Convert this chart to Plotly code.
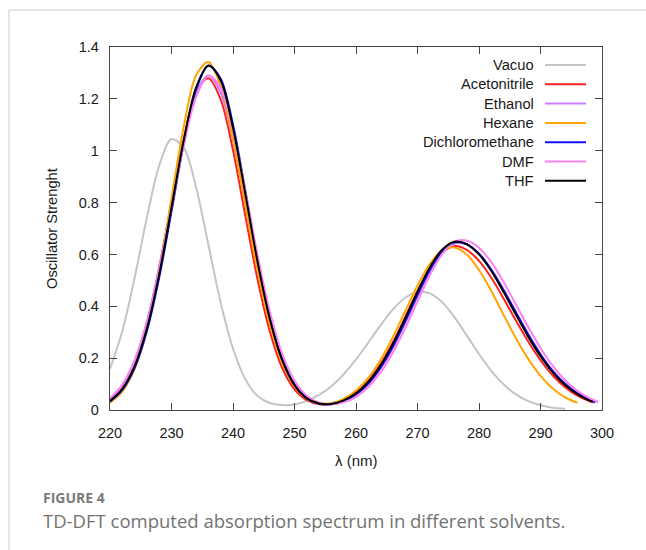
import plotly.graph_objects as go

# ---------------- data ----------------
WL = [220, 222, 224, 226, 228, 230, 232, 234, 236, 238,
      240, 242, 244, 246, 248, 250, 252, 254, 256, 258,
      260, 262, 264, 266, 268, 270, 272, 274, 276, 278,
      280, 282, 284, 286, 288, 290, 292, 294, 296, 298]

vacuo = [0.159, 0.304, 0.509, 0.742, 0.943, 1.045, 1.012, 0.858, 0.637, 0.414,
         0.237, 0.119, 0.054, 0.027, 0.019, 0.021, 0.035, 0.058, 0.092, 0.138,
         0.195, 0.260, 0.327, 0.388, 0.433, 0.455, 0.450, 0.416, 0.358, 0.288,
         0.216, 0.151, 0.099, 0.060, 0.034, 0.018, 0.009, 0.005]

acetonitrile = [0.040, 0.091, 0.185, 0.337, 0.550, 0.802, 1.047, 1.224, 1.279, 1.197,
                1.002, 0.750, 0.503, 0.302, 0.162, 0.080, 0.038, 0.022, 0.024, 0.039,
                0.067, 0.113, 0.178, 0.261, 0.358, 0.458, 0.546, 0.608, 0.632, 0.618,
                0.575, 0.510, 0.430, 0.345, 0.264, 0.192, 0.133, 0.088, 0.055, 0.033]

ethanol = [0.041, 0.093, 0.186, 0.336, 0.546, 0.795, 1.040, 1.223, 1.290, 1.223,
           1.040, 0.795, 0.546, 0.336, 0.186, 0.094, 0.044, 0.024, 0.022, 0.033,
           0.058, 0.099, 0.160, 0.239, 0.335, 0.437, 0.533, 0.606, 0.642, 0.638,
           0.603, 0.542, 0.464, 0.378, 0.293, 0.216, 0.152, 0.102, 0.065, 0.039]

hexane = [0.028, 0.071, 0.158, 0.309, 0.535, 0.816, 1.094, 1.291, 1.342, 1.248,
          1.046, 0.790, 0.537, 0.329, 0.182, 0.093, 0.045, 0.027, 0.027, 0.043,
          0.075, 0.124, 0.194, 0.282, 0.381, 0.480, 0.563, 0.616, 0.627, 0.600,
          0.540, 0.459, 0.367, 0.277, 0.197, 0.132, 0.083, 0.049, 0.028]

dichloromethane = [0.033, 0.078, 0.163, 0.305, 0.511, 0.766, 1.029, 1.236, 1.328, 1.278,
                   1.100, 0.847, 0.584, 0.360, 0.199, 0.099, 0.047, 0.025, 0.023, 0.034,
                   0.060, 0.102, 0.164, 0.245, 0.342, 0.444, 0.540, 0.611, 0.646, 0.640,
                   0.603, 0.541, 0.462, 0.376, 0.291, 0.214, 0.150, 0.100, 0.064, 0.038]

dmf = [0.045, 0.098, 0.192, 0.339, 0.542, 0.782, 1.022, 1.207, 1.289, 1.242,
       1.080, 0.845, 0.597, 0.379, 0.217, 0.114, 0.055, 0.028, 0.022, 0.030,
       0.051, 0.089, 0.145, 0.222, 0.316, 0.419, 0.520, 0.601, 0.649, 0.654,
       0.626, 0.570, 0.494, 0.407, 0.320, 0.239, 0.170, 0.115, 0.074, 0.045]

thf = [0.035, 0.081, 0.168, 0.314, 0.523, 0.780, 1.041, 1.244, 1.329, 1.271,
       1.088, 0.834, 0.571, 0.350, 0.192, 0.096, 0.045, 0.025, 0.023, 0.037,
       0.064, 0.108, 0.172, 0.255, 0.353, 0.456, 0.550, 0.618, 0.649, 0.640,
       0.600, 0.536, 0.455, 0.368, 0.283, 0.208, 0.145, 0.096, 0.061, 0.036]

# last sample of each curve (wavelength, value) where it stops inside the grid
tail_x = {"Acetonitrile": 298.5, "Ethanol": 299.0, "Dichloromethane": 298.9, "DMF": 299.4, "THF": 298.5}
tail_y = {"Acetonitrile": 0.029, "Ethanol": 0.030, "Dichloromethane": 0.030, "DMF": 0.031, "THF": 0.032}

names = ["Vacuo", "Acetonitrile", "Ethanol", "Hexane", "Dichloromethane", "DMF", "THF"]
series = [vacuo, acetonitrile, ethanol, hexane, dichloromethane, dmf, thf]
colors = ["#c4c4c4", "#ff2020", "#c87cff", "#ffa500", "#1010ff", "#ff80f0", "#000000"]

x_ticks = [220, 230, 240, 250, 260, 270, 280, 290, 300]
y_ticks = [0, 0.2, 0.4, 0.6, 0.8, 1.0, 1.2, 1.4]
y_tick_text = ["0", "0.2", "0.4", "0.6", "0.8", "1", "1.2", "1.4"]

# ---------------- layout geometry (pixels) ----------------
FW, FH = 646, 550
L, R, T, B = 110, 602, 47, 410
PW, PH = R - L, B - T


def px(x):
    return (x - L) / PW


def py(y):
    return (B - y) / PH


fig = go.Figure()
for name, vals, col in zip(names, series, colors):
    xs = WL[:len(vals)]
    ys = list(vals)
    if name in tail_x:
        xs = xs + [tail_x[name]]
        ys = ys + [tail_y[name]]
    fig.add_trace(go.Scatter(
        x=xs, y=ys, mode="lines", name=name,
        line=dict(color=col, width=2, shape="spline", smoothing=0.9),
        showlegend=False, hoverinfo="skip"))

FONT = "Liberation Sans, Arial, sans-serif"
axis_font = dict(family=FONT, size=14.5, color="#1a1a1a")
annotations = []
shapes = []

# legend (gnuplot style: text right-aligned, sample line to the right)
for i, (name, col) in enumerate(zip(names, colors)):
    yy = 65 + 19.3 * i
    annotations.append(dict(xref="paper", yref="paper", x=px(536), y=py(yy),
                            text=name, showarrow=False, xanchor="right", yanchor="middle",
                            font=dict(family=FONT, size=14.7, color="#1a1a1a")))
    shapes.append(dict(type="line", xref="paper", yref="paper",
                       x0=px(545), x1=px(586), y0=py(yy), y1=py(yy),
                       line=dict(color=col, width=2)))

# axis titles
annotations.append(dict(xref="paper", yref="paper", x=px(356), y=py(460), text="λ (nm)",
                        showarrow=False, xanchor="center", yanchor="middle",
                        font=dict(family=FONT, size=15, color="#1a1a1a")))
annotations.append(dict(xref="paper", yref="paper", x=px(52), y=py(229), text="Oscillator Strenght",
                        showarrow=False, xanchor="center", yanchor="middle", textangle=-90,
                        font=dict(family=FONT, size=14.7, color="#1a1a1a")))

# caption
annotations.append(dict(xref="paper", yref="paper", x=px(41), y=py(497), text="<b>FIGURE 4</b>",
                        showarrow=False, xanchor="left", yanchor="middle",
                        font=dict(family="Open Sans, sans-serif", size=14, color="#7a7a7a")))
annotations.append(dict(xref="paper", yref="paper", x=px(41), y=py(520),
                        text="TD-DFT computed absorption spectrum in different solvents.",
                        showarrow=False, xanchor="left", yanchor="middle",
                        font=dict(family="Open Sans, sans-serif", size=18.5, color="#727272")))

# outer frame of the figure card
shapes.append(dict(type="line", xref="paper", yref="paper", x0=px(9), x1=px(9), y0=py(600), y1=py(10),
                   line=dict(color="#dcdcdc", width=1.5), layer="below"))
shapes.append(dict(type="line", xref="paper", yref="paper", x0=px(9), x1=px(700), y0=py(10), y1=py(10),
                   line=dict(color="#dcdcdc", width=1.5), layer="below"))

fig.update_layout(
    width=FW, height=FH,
    margin=dict(l=L, r=FW - R, t=T, b=FH - B, pad=0),
    paper_bgcolor="white", plot_bgcolor="white",
    showlegend=False,
    annotations=annotations, shapes=shapes,
    xaxis=dict(range=[220, 300], tickmode="array", tickvals=x_ticks,
               ticks="inside", ticklen=7, tickwidth=1.2, tickcolor="#444",
               showline=True, linecolor="#444", linewidth=1.3, mirror="ticks",
               showgrid=False, zeroline=False, tickfont=axis_font, ticklabelstandoff=9),
    yaxis=dict(range=[0, 1.4], tickmode="array", tickvals=y_ticks, ticktext=y_tick_text,
               ticks="inside", ticklen=7, tickwidth=1.2, tickcolor="#444",
               showline=True, linecolor="#444", linewidth=1.3, mirror="ticks",
               showgrid=False, zeroline=False, tickfont=axis_font, ticklabelstandoff=7),
)

fig.write_html("out.html")
